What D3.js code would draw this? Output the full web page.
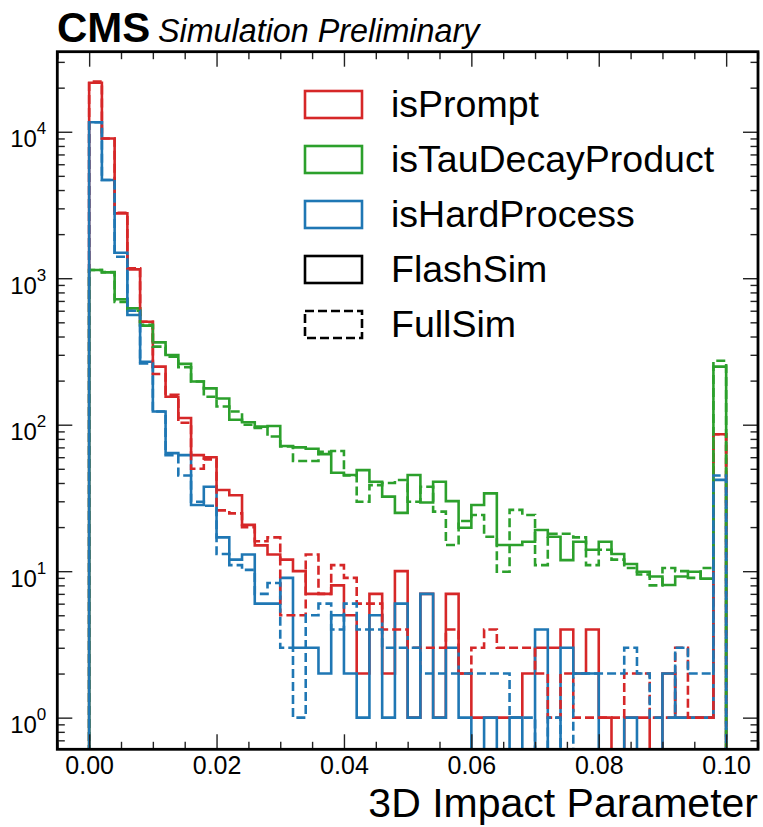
<!DOCTYPE html>
<html>
<head>
<meta charset="utf-8">
<script src="https://cdn.jsdelivr.net/npm/d3@7"></script>
<style>
body { margin: 0; background: #fff; }
svg { font-family: "Liberation Sans", Arial, Helvetica, sans-serif; }
</style>
</head>
<body>
<div class="chart"></div>
<script>
'use strict';

// bins: 50 bins of width 0.002 between 0 and 0.1
const binStart = 0;
const binWidth = 0.002;
const nBins = 50;

// counts per bin
const promptFlash = [21600, 9000, 2770, 1150, 505, 249, 155, 111, 62, 60,
    35.8, 33, 20.7, 15, 13, 12, 10, 7, 7, 8,
    5, 2, 7, 2, 10, 1, 7, 1, 7, 2,
    1, 1, 1, 1, 2, 3, 3, 4, 2, 4,
    1, 0, 1, 1, 0, 2, 1, 1, 1, 86];
const promptFull = [22000, 9000, 2800, 1170, 505, 222, 160, 103, 50, 58,
    26, 24.8, 20, 16, 17, 5, 5, 13, 7, 11,
    9, 6, 6, 4, 4, 3, 3, 3, 4, 2,
    3, 4, 3, 3, 3, 2, 1, 2, 1, 1,
    1, 1, 2, 2, 1, 1, 3, 1, 1, 86];
const tauFlash = [1137, 1097, 718, 623, 475, 365, 299, 260, 197, 177,
    151, 108, 104, 97, 98, 71.6, 70, 68.6, 63, 47,
    45.4, 49, 40.8, 32.3, 25, 45.4, 29.4, 40.8, 30.1, 19.8,
    28.3, 34, 15.1, 15.1, 15.9, 19.1, 17.2, 11.9, 15.9, 14,
    15.9, 13.1, 11.2, 9.9, 9.2, 8.05, 9.2, 9.9, 8.9, 249];
const tauFull = [1137, 1100, 690, 600, 480, 341, 291, 247, 197, 155,
    133, 123, 100, 95, 83, 71, 56.5, 56.5, 65.4, 66.1,
    45, 29.8, 38.7, 40, 41.9, 29.8, 37.7, 25.5, 15.1, 22,
    24.2, 17.2, 9.9, 26.2, 24.2, 11, 18, 18, 17, 11,
    14, 12, 10.5, 9.5, 8, 10.5, 10, 9, 10.5, 273];
const hardFlash = [11600, 4680, 1493, 561, 269, 123, 64, 62, 28.3, 37.7,
    17, 12, 13, 6, 6, 9, 3, 3, 2, 5,
    2, 1, 5, 1, 6, 1, 7, 1, 3, 1,
    0, 1, 0, 1, 0, 4, 0, 3, 2, 2,
    0, 0, 1, 0, 0, 2, 1, 1, 1, 42];
const hardFull = [11600, 4680, 1403, 600, 262, 123, 62, 45, 29.8, 28,
    13.1, 11, 10.2, 7, 8.3, 3, 1, 5, 6, 4,
    6, 4, 4, 3, 3, 3, 2, 2, 2, 2,
    2, 2, 2, 1, 1, 0, 1, 0, 2, 2,
    2, 2, 3, 2, 1, 1, 3, 2, 2, 45];

const labels = ['isPrompt', 'isTauDecayProduct', 'isHardProcess'];
const colors = ['#d62728', '#2ca02c', '#1f77b4'];
const xTicks = [0, 0.02, 0.04, 0.06, 0.08, 0.10];
const yTicks = [1, 10, 100, 1000, 10000];

const margin = {top: 51.7, right: 5, bottom: 77.7, left: 57.3};
const width = 763 - margin.left - margin.right;
const height = 827 - margin.top - margin.bottom;

const xScale = d3.scaleLinear()
    .domain([-0.005, 0.105])
    .range([0, width]);

const yScale = d3.scaleLog()
    .domain([0.608, 35200])
    .range([height, 0]);

const edges = d3.range(nBins + 1).map(i => binStart + i * binWidth);

function stepPoints(values) {
    const floor = 1e-3;
    const pts = [[edges[0], floor]];
    values.forEach((v, i) => {
        const y = v > 0 ? v : floor;
        pts.push([edges[i], y]);
        pts.push([edges[i + 1], y]);
    });
    pts.push([edges[nBins], floor]);
    return pts;
}

const line = d3.line()
    .x(d => xScale(d[0]))
    .y(d => yScale(d[1]));

const svg = d3.select('.chart').append('svg')
    .attr('width', 763)
    .attr('height', 827);

const g = svg.append('g')
    .attr('transform', `translate(${margin.left},${margin.top})`);

g.append('clipPath')
    .attr('id', 'plot-clip')
    .append('rect')
    .attr('width', width)
    .attr('height', height);

const hists = g.append('g').attr('clip-path', 'url(#plot-clip)');

const series = [
    {values: promptFlash, color: colors[0], dashed: false},
    {values: tauFlash, color: colors[1], dashed: false},
    {values: hardFlash, color: colors[2], dashed: false},
    {values: promptFull, color: colors[0], dashed: true},
    {values: tauFull, color: colors[1], dashed: true},
    {values: hardFull, color: colors[2], dashed: true},
];

hists.selectAll('path')
    .data(series)
    .enter().append('path')
    .attr('d', d => line(stepPoints(d.values)))
    .attr('fill', 'none')
    .attr('stroke', d => d.color)
    .attr('stroke-width', 2.6)
    .attr('stroke-dasharray', d => d.dashed ? '9,4' : null);

// axes, ticks pointing inward on all four sides
const majorLen = 15, minorLen = 7.5;
const xMinor = d3.range(-0.005, 0.1051, 0.005).filter(v => Math.abs(v / 0.02 - Math.round(v / 0.02)) > 1e-6);
const yMinor = [];
[0.1, 1, 10, 100, 1000, 10000].forEach(dec => {
    for (let k = 2; k <= 9; k++) {
        const v = k * dec;
        if (v >= yScale.domain()[0] && v <= yScale.domain()[1]) yMinor.push(v);
    }
});

function styleAxis(sel) {
    sel.select('.domain').remove();
    sel.selectAll('.tick line').attr('stroke', '#222').attr('stroke-width', 1.4);
    sel.selectAll('text').attr('fill', '#000');
}

g.append('g')
    .attr('class', 'axis axis--x')
    .attr('transform', `translate(0,${height})`)
    .call(d3.axisBottom(xScale).tickValues(xTicks).tickSizeInner(-majorLen).tickSizeOuter(0)
        .tickPadding(7).tickFormat(d3.format('.2f')))
    .call(styleAxis)
    .selectAll('text').attr('font-size', 25);

g.append('g')
    .attr('transform', `translate(0,${height})`)
    .call(d3.axisBottom(xScale).tickValues(xMinor).tickSizeInner(-minorLen).tickSizeOuter(0).tickFormat(''))
    .call(styleAxis);

g.append('g')
    .call(d3.axisTop(xScale).tickValues(xTicks).tickSizeInner(-majorLen).tickSizeOuter(0).tickFormat(''))
    .call(styleAxis);

g.append('g')
    .call(d3.axisTop(xScale).tickValues(xMinor).tickSizeInner(-minorLen).tickSizeOuter(0).tickFormat(''))
    .call(styleAxis);

const yAxis = g.append('g')
    .attr('class', 'axis axis--y')
    .call(d3.axisLeft(yScale).tickValues(yTicks).tickSizeInner(-majorLen).tickSizeOuter(0)
        .tickPadding(11).tickFormat(''))
    .call(styleAxis);

yAxis.selectAll('.tick text').each(function (d) {
    const t = d3.select(this)
        .attr('font-size', 24)
        .attr('dy', '0.62em');
    t.append('tspan').text('10');
    t.append('tspan')
        .attr('font-size', 17)
        .attr('dy', '-0.75em')
        .text(Math.round(Math.log10(d)));
});

g.append('g')
    .call(d3.axisLeft(yScale).tickValues(yMinor).tickSizeInner(-minorLen).tickSizeOuter(0).tickFormat(''))
    .call(styleAxis);

g.append('g')
    .attr('transform', `translate(${width},0)`)
    .call(d3.axisRight(yScale).tickValues(yTicks).tickSizeInner(-majorLen).tickSizeOuter(0).tickFormat(''))
    .call(styleAxis);

g.append('g')
    .attr('transform', `translate(${width},0)`)
    .call(d3.axisRight(yScale).tickValues(yMinor).tickSizeInner(-minorLen).tickSizeOuter(0).tickFormat(''))
    .call(styleAxis);

// frame
g.append('rect')
    .attr('width', width)
    .attr('height', height)
    .attr('fill', 'none')
    .attr('stroke', '#000')
    .attr('stroke-width', 2.8);

// axis label
svg.append('text')
    .attr('x', margin.left + width)
    .attr('y', 817)
    .attr('text-anchor', 'end')
    .attr('font-size', 41)
    .text('3D Impact Parameter');

// CMS header
svg.append('text')
    .attr('x', 57)
    .attr('y', 41.7)
    .attr('font-size', 42)
    .attr('font-weight', 'bold')
    .text('CMS');
svg.append('text')
    .attr('x', 158)
    .attr('y', 41.7)
    .attr('font-size', 32.3)
    .attr('font-style', 'italic')
    .text('Simulation Preliminary');

// legend
const legendItems = [
    {label: labels[0], color: colors[0], dashed: false},
    {label: labels[1], color: colors[1], dashed: false},
    {label: labels[2], color: colors[2], dashed: false},
    {label: 'FlashSim', color: '#000', dashed: false},
    {label: 'FullSim', color: '#000', dashed: true},
];

const legend = svg.append('g').attr('transform', 'translate(305,91)');
const row = legend.selectAll('g')
    .data(legendItems)
    .enter().append('g')
    .attr('transform', (d, i) => `translate(0,${i * 55})`);

row.append('rect')
    .attr('width', 57)
    .attr('height', 27)
    .attr('fill', 'none')
    .attr('stroke', d => d.color)
    .attr('stroke-width', 2.6)
    .attr('stroke-dasharray', d => d.dashed ? '9,4' : null);

row.append('text')
    .attr('x', 86)
    .attr('y', 26)
    .attr('font-size', 37.5)
    .text(d => d.label);
</script>
</body>
</html>
